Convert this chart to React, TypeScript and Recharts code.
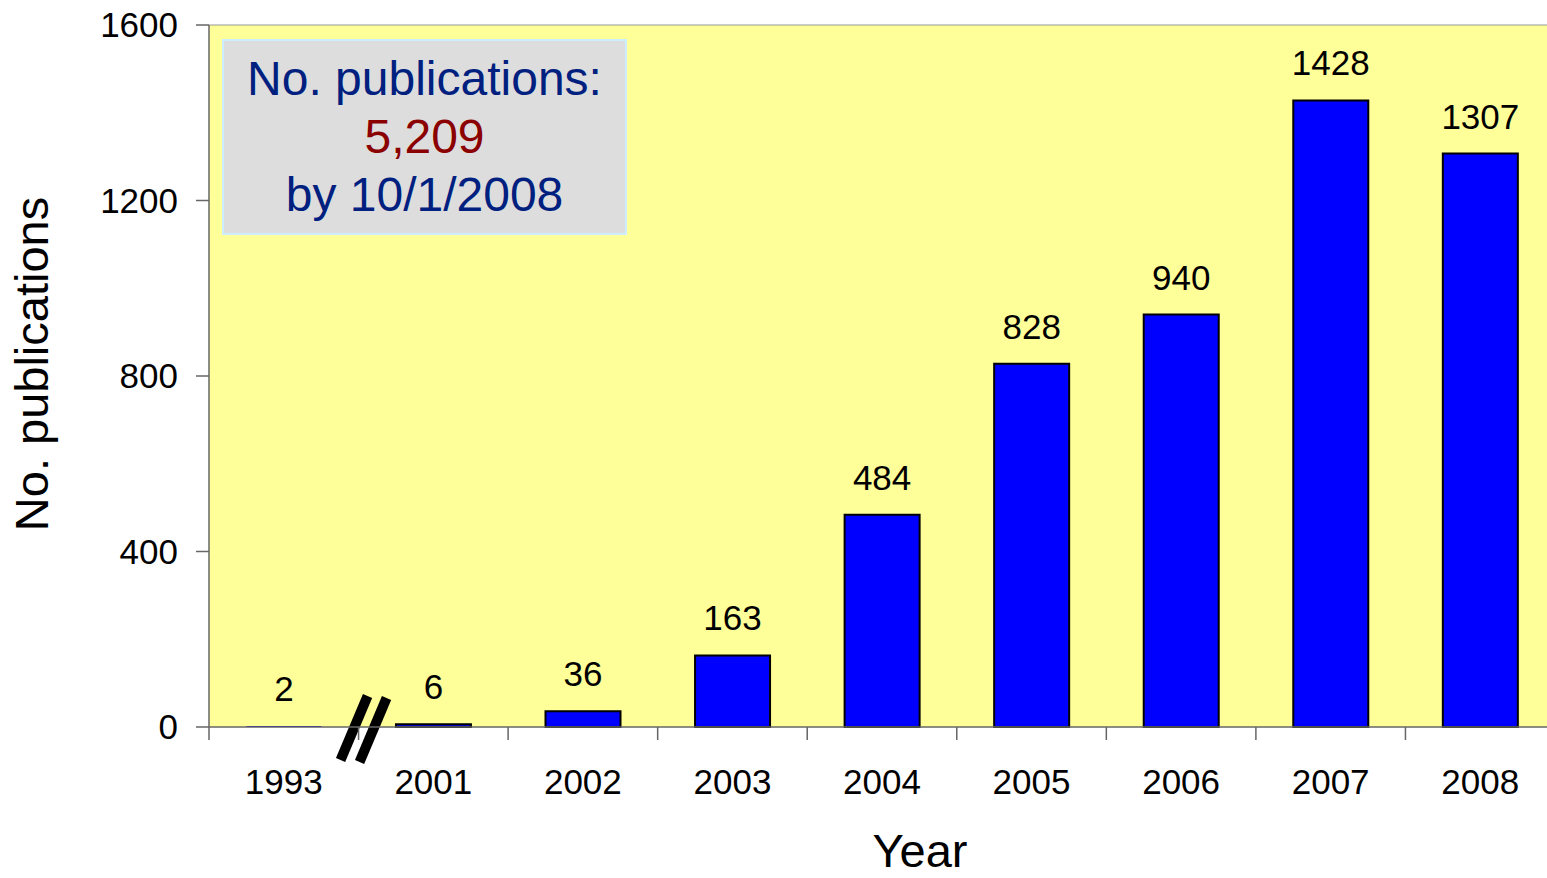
import React from 'react'
import { BarChart, Bar, XAxis, YAxis, CartesianGrid, LabelList, Customized, ReferenceLine, Cell } from 'recharts'

const years = ['1993', '2001', '2002', '2003', '2004', '2005', '2006', '2007', '2008']
const publications = [2, 6, 36, 163, 484, 828, 940, 1428, 1307]
const yTicks = [0, 400, 800, 1200, 1600]

const data = years.map((year, i) => ({ year, value: publications[i] }))

const W = 1555
const H = 878
const TOP = 25
const LEFT = 209
const XAXIS_H = 151
const PLOT_BOTTOM = H - XAXIS_H
const BAND = (W - LEFT) / years.length
const FONT = '"Liberation Sans", Arial, sans-serif'

const XTick = ({ x, payload }: any) => {
  const edge = x - BAND / 2
  return (
    <g>
      <line x1={edge} x2={edge} y1={PLOT_BOTTOM} y2={PLOT_BOTTOM + 13} stroke="#666" strokeWidth={1.5} />
      <text x={x} y={PLOT_BOTTOM + 67} textAnchor="middle" fontSize={35} fill="#000" fontFamily={FONT}>
        {payload.value}
      </text>
    </g>
  )
}

// axis break + axis titles
const Extras = () => {
  const bx = LEFT + BAND + 5
  const by = PLOT_BOTTOM
  return (
    <g>
      <line x1={bx - 23} y1={by + 33} x2={bx + 4} y2={by - 31} stroke="#000" strokeWidth={10} />
      <line x1={bx - 4} y1={by + 35} x2={bx + 23} y2={by - 29} stroke="#000" strokeWidth={10} />
      <text x={48} y={364} transform="rotate(-90, 48, 364)" textAnchor="middle" fontSize={47} fontFamily={FONT} fill="#000">
        No. publications
      </text>
      <text x={920} y={867} textAnchor="middle" fontSize={47} fontFamily={FONT} fill="#000">
        Year
      </text>
    </g>
  )
}

export default function App() {
  return (
    <div style={{ position: 'absolute', left: 0, top: 0, width: 1547, height: H, overflow: 'hidden', background: '#fff' }}>
      <BarChart width={W} height={H} data={data} margin={{ top: TOP, right: 0, left: 0, bottom: 0 }} barCategoryGap="25%">
        <CartesianGrid fill="#FFFF99" horizontal={false} vertical={false} />
        <ReferenceLine y={1600} stroke="#999" strokeWidth={1} />
        <XAxis
          dataKey="year"
          height={XAXIS_H}
          axisLine={{ stroke: '#666', strokeWidth: 1.5 }}
          tickLine={false}
          tick={<XTick />}
          interval={0}
        />
        <YAxis
          width={LEFT}
          domain={[0, 1600]}
          ticks={yTicks}
          tickSize={13}
          tickMargin={18}
          axisLine={{ stroke: '#666', strokeWidth: 1.5 }}
          tickLine={{ stroke: '#666', strokeWidth: 1.5 }}
          tick={{ fontSize: 35, fill: '#000', fontFamily: FONT }}
        />
        <Bar dataKey="value" fill="#0000FF" stroke="#000" strokeWidth={2} isAnimationActive={false}>
          {data.map((d, i) => (
            <Cell key={i} stroke={i === 0 ? 'none' : '#000'} />
          ))}
          <LabelList dataKey="value" position="top" offset={25} fontSize={35} fill="#000" fontFamily={FONT} />
        </Bar>
        <Customized component={<Extras />} />
      </BarChart>
      <div
        style={{
          position: 'absolute', left: 222, top: 39, width: 401, height: 192,
          background: '#DDDDDD', border: '2px solid #CCEEFF',
          fontFamily: FONT, fontSize: 48, lineHeight: '58px', color: '#002080',
          textAlign: 'center', display: 'flex', flexDirection: 'column', justifyContent: 'center',
        }}
      >
        <div>No. publications:</div>
        <div style={{ color: '#8B0000' }}>5,209</div>
        <div>by 10/1/2008</div>
      </div>
    </div>
  )
}
